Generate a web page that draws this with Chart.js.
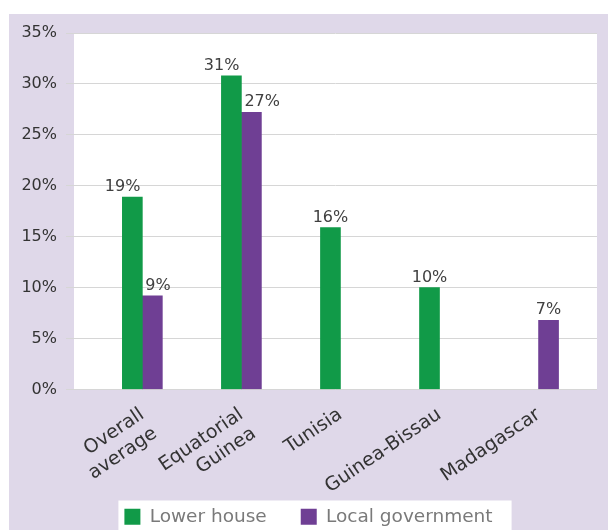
<!DOCTYPE html>
<html><head><meta charset="utf-8">
<script src="https://cdn.jsdelivr.net/npm/chart.js@4.4.1/dist/chart.umd.min.js"></script>
<style>html,body{margin:0;padding:0;overflow:hidden;background:#fff}#wrap{position:relative;width:608px;height:536px}</style>
</head><body><div id="wrap"><canvas id="c" width="608" height="536"></canvas></div>
<script>
const categories = [['Overall', 'average'], ['Equatorial', 'Guinea'], 'Tunisia', 'Guinea-Bissau', 'Madagascar'];
const seriesNames = ['Lower house', 'Local government'];
const lowerHouse = [18.9, 30.8, 15.9, 10.0, null];
const localGovernment = [9.2, 27.2, null, null, 6.8];
const yTickValues = [0, 5, 10, 15, 20, 25, 30, 35];

const FONT = "'DejaVu Sans', sans-serif";
const GREEN = '#119A48', PURPLE = '#6F3F94', LAVENDER = '#DFD8E9';

const bgPlugin = {
  id: 'bg',
  beforeDraw(chart) {
    const ctx = chart.ctx, a = chart.chartArea;
    ctx.save();
    ctx.fillStyle = '#fff';
    ctx.fillRect(0, 0, chart.width, chart.height);
    ctx.fillStyle = LAVENDER;
    ctx.fillRect(9, 14, chart.width - 9, chart.height - 14);
    ctx.fillStyle = '#fff';
    ctx.fillRect(a.left, a.top, a.right - a.left, a.bottom - a.top);
    const hb = chart.legend && chart.legend.legendHitBoxes;
    if (hb && hb.length) {
      const l = hb[0].left - 6, last = hb[hb.length - 1];
      const r = last.left + last.width + 19;
      ctx.fillRect(l, hb[0].top - 7, r - l, chart.height);
    }
    ctx.restore();
  }
};

const labelPlugin = {
  id: 'vlabels',
  afterDatasetsDraw(chart) {
    const ctx = chart.ctx;
    ctx.save();
    ctx.font = '16px ' + FONT;
    ctx.fillStyle = '#404040';
    ctx.textBaseline = 'alphabetic';
    const both = i => lowerHouse[i] != null && localGovernment[i] != null;
    chart.data.datasets.forEach((ds, di) => {
      const meta = chart.getDatasetMeta(di);
      meta.data.forEach((bar, i) => {
        const v = ds.data[i];
        if (v == null) return;
        let x = bar.x, align = 'center';
        if (both(i)) {
          if (di === 0) { x = bar.x + bar.width / 2 - 2; align = 'right'; }
          else { x = bar.x - bar.width / 2 + 3; align = 'left'; }
        }
        ctx.textAlign = align;
        ctx.fillText(Math.round(v) + '%', x, bar.y - 6);
      });
    });
    ctx.restore();
  }
};

new Chart(document.getElementById('c'), {
  type: 'bar',
  data: {
    labels: categories.map((_, i) => i),
    datasets: [
      { label: seriesNames[0], data: lowerHouse, backgroundColor: GREEN, barThickness: 20 },
      { label: seriesNames[1], data: localGovernment, backgroundColor: PURPLE, barThickness: 20 }
    ]
  },
  options: {
    responsive: false,
    animation: false,
    devicePixelRatio: 1,
    layout: { padding: { top: 33, right: 11, left: 20, bottom: 0 } },
    plugins: {
      tooltip: { enabled: false },
      legend: {
        position: 'bottom',
        labels: {
          boxWidth: 16, boxHeight: 16, padding: 34,
          color: '#7a7a7a',
          font: { family: FONT, size: 18.5 }
        }
      }
    },
    scales: {
      x: {
        type: 'linear',
        min: -0.69, max: 4.59,
        offset: false,
        grid: { display: false, offset: false },
        border: { display: false },
        afterBuildTicks: s => { s.ticks = categories.map((_, i) => ({ value: i })); },
        afterFit: s => { s.height = 84; s._computeLabelArea = () => undefined; },
        ticks: {
          autoSkip: false,
          minRotation: 34, maxRotation: 34,
          padding: 6,
          color: '#333',
          font: { family: FONT, size: 19 },
          callback: v => categories[v]
        }
      },
      y: {
        min: 0, max: 35,
        afterBuildTicks: s => { s.ticks = yTickValues.map(v => ({ value: v })); },
        afterFit: s => { s.width = 54; s._computeLabelArea = () => undefined; },
        grid: { color: '#d6d6d6', lineWidth: 1, tickLength: 8, drawTicks: true },
        border: { display: false },
        ticks: {
          padding: 9,
          color: '#333',
          font: { family: FONT, size: 16 },
          callback: v => v + '%'
        }
      }
    }
  },
  plugins: [bgPlugin, labelPlugin]
});
</script>
</body></html>
